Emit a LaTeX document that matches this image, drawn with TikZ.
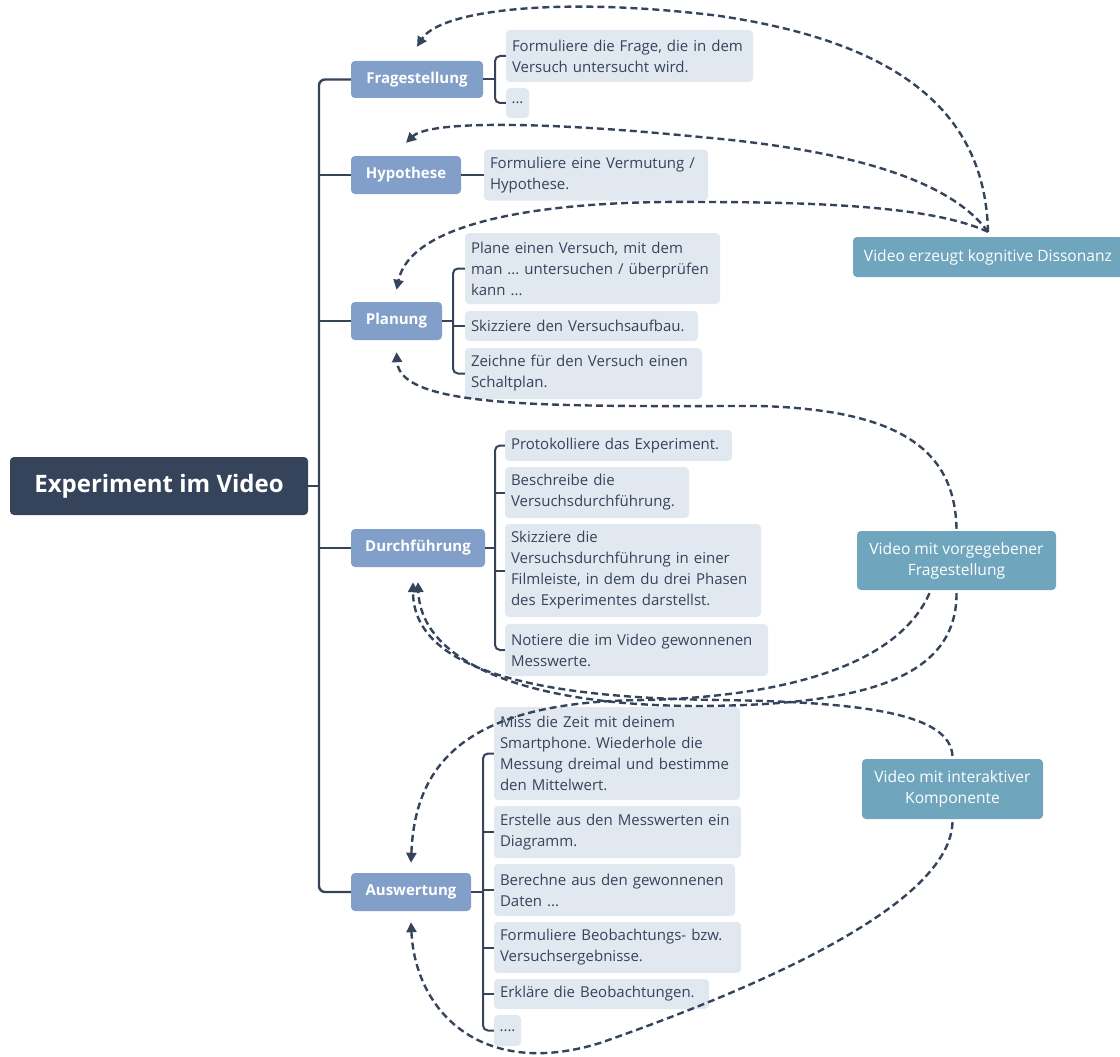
\documentclass[tikz,border=0pt]{standalone}
\usepackage{fontspec}
\setmainfont{Open Sans}
\usetikzlibrary{arrows.meta,calc}
\definecolor{dark}{HTML}{35445A}
\definecolor{branch}{HTML}{819FC8}
\definecolor{leaffill}{HTML}{E2E8F0}
\definecolor{tealbox}{HTML}{70A6BD}
\definecolor{txt}{HTML}{35445A}
\frenchspacing
\begin{document}
\begin{tikzpicture}[x=1pt,y=-1pt,
  box/.style={rounded corners=4pt, inner sep=0pt},
  rootbox/.style={box, fill=dark, text=white, font=\fontsize{24}{28}\selectfont\bfseries, minimum width=298pt, minimum height=58pt},
  branchbox/.style={box, fill=branch, text=white, font=\fontsize{15}{18}\selectfont\bfseries, minimum height=38pt},
  leaf/.style={box, fill=leaffill, text=txt, font=\fontsize{15}{21}\selectfont\frenchspacing, align=left, inner xsep=6pt, inner ysep=0pt},
  side/.style={box, fill=tealbox, text=white, font=\fontsize{15.6}{21}\selectfont, align=center},
  tree/.style={draw=dark, line width=2.4pt, rounded corners=6pt},
  twig/.style={draw=dark, line width=2pt, rounded corners=5pt},
  rel/.style={draw=dark, line width=2.4pt, dash pattern=on 7pt off 4pt, -{Triangle[length=10pt,width=10pt]}},
]
\useasboundingbox (0,0) rectangle (1120,1057);

% root and branches
\node[rootbox] (root) at (159,486) {Experiment im Video};
\node[branchbox, minimum width=132pt, minimum height=37pt] (frag) at (417,79.5) {Fragestellung};
\node[branchbox, minimum width=110pt] (hyp) at (406,175) {Hypothese};
\node[branchbox, minimum width=91pt] (plan) at (396.5,321) {Planung};
\node[branchbox, minimum width=134pt] (durch) at (418,548) {Durchführung};
\node[branchbox, minimum width=120pt] (ausw) at (411,892) {Auswertung};

% leaves
\node[leaf, text width=235pt, minimum height=52pt] (f1) at (629.5,56) {Formuliere die Frage, die in dem\\Versuch untersucht wird.};
\node[leaf, inner xsep=0pt, minimum width=23pt, minimum height=30pt] (f2) at (517.5,103) {...};
\node[leaf, text width=212pt, minimum height=51pt] (h1) at (596,175) {Formuliere eine Vermutung /\\Hypothese.};
\node[leaf, text width=243pt, minimum height=71pt] (p1) at (592.5,268.5) {Plane einen Versuch, mit dem\\man ... untersuchen / überprüfen\\kann ...};
\node[leaf, text width=221pt, minimum height=30pt] (p2) at (581.5,326) {Skizziere den Versuchsaufbau.};
\node[leaf, text width=225pt, minimum height=51pt] (p3) at (583.5,373.5) {Zeichne für den Versuch einen\\Schaltplan.};
\node[leaf, text width=215pt, minimum height=31pt] (d1) at (618.5,445.5) {Protokolliere das Experiment.};
\node[leaf, text width=172pt, minimum height=51pt] (d2) at (597,492.5) {Beschreibe die\\Versuchsdurchführung.};
\node[leaf, text width=244pt, minimum height=93pt] (d3) at (633,570.5) {Skizziere die\\Versuchsdurchführung in einer\\Filmleiste, in dem du drei Phasen\\des Experimentes darstellst.};
\node[leaf, text width=251pt, minimum height=52pt] (d4) at (636.5,650) {Notiere die im Video gewonnenen\\Messwerte.};
\node[leaf, text width=234pt, minimum height=93pt] (a1) at (617,753.5) {Miss die Zeit mit deinem\\Smartphone. Wiederhole die\\Messung dreimal und bestimme\\den Mittelwert.};
\node[leaf, text width=235pt, minimum height=52pt] (a2) at (617.5,832) {Erstelle aus den Messwerten ein\\Diagramm.};
\node[leaf, text width=229pt, minimum height=52pt] (a3) at (614.5,890) {Berechne aus den gewonnenen\\Daten ...};
\node[leaf, text width=235pt, minimum height=51pt] (a4) at (617.5,947.5) {Formuliere Beobachtungs- bzw.\\Versuchsergebnisse.};
\node[leaf, text width=203pt, minimum height=30pt] (a5) at (601.5,994) {Erkläre die Beobachtungen.};
\node[leaf, inner xsep=0pt, minimum width=27pt, minimum height=31pt] (a6) at (507.5,1030.5) {....};

% side nodes
\node[side, minimum width=270pt, minimum height=40pt] (diss) at (988,257) {Video erzeugt kognitive Dissonanz};
\node[side, minimum width=199pt, minimum height=59pt] (vorg) at (956.5,560.5) {Video mit vorgegebener\\Fragestellung};
\node[side, minimum width=181pt, minimum height=60pt] (inter) at (952.5,789) {Video mit interaktiver\\Komponente};

% trunk
\coordinate (tr) at (319,486);
\draw[tree] (root.east) -- (tr);
\draw[tree] (frag.west) -| (tr) |- (ausw.west);
\draw[tree] (hyp.west) -- (hyp.west -| tr);
\draw[tree] (plan.west) -- (plan.west -| tr);
\draw[tree] (durch.west) -- (durch.west -| tr);

% brackets
\coordinate (fb) at (495,0);
\draw[twig] (frag.east) -- (frag.east -| fb);
\draw[twig] (f1.west) -- (f1.west -| fb) -- (f2.west -| fb) -- (f2.west);
\draw[twig] (hyp.east) -- (h1.west);
\coordinate (pb) at (453,0);
\draw[twig] (plan.east) -- (plan.east -| pb);
\draw[twig] (p1.west) -- (p1.west -| pb) -- (p3.west -| pb) -- (p3.west);
\draw[twig] (p2.west) -- (p2.west -| pb);
\coordinate (db) at (495,0);
\draw[twig] (durch.east) -- (durch.east -| db);
\draw[twig] (d1.west) -- (d1.west -| db) -- (d4.west -| db) -- (d4.west);
\draw[twig] (d2.west) -- (d2.west -| db);
\draw[twig] (d3.west) -- (d3.west -| db);
\coordinate (ab) at (483,0);
\draw[twig] (ausw.east) -- (ausw.east -| ab);
\draw[twig] (a1.west) -- (a1.west -| ab) -- (a6.west -| ab) -- (a6.west);
\draw[twig] (a2.west) -- (a2.west -| ab);
\draw[twig] (a3.west) -- (a3.west -| ab);
\draw[twig] (a4.west) -- (a4.west -| ab);
\draw[twig] (a5.west) -- (a5.west -| ab);

% relationships
\draw[rel] ([yshift=5pt]diss.north) .. controls (985,100) and (880,40) .. (720,16) .. controls (560,-4) and (440,10) .. ([yshift=14pt]frag.north);
\draw[rel] ([yshift=5pt]diss.north) .. controls (950,180) and (850,150) .. (700,137) .. controls (550,122) and (430,120) .. ([yshift=13pt]hyp.north);
\draw[rel] ([yshift=5pt]diss.north) .. controls (940,210) and (850,202) .. (700,202) .. controls (530,200) and (410,225) .. ([yshift=12pt]plan.north);
\draw[rel] ([yshift=2pt]vorg.north) .. controls (955,450) and (900,410) .. (760,406) .. controls (560,406) and (400,410) .. ([yshift=-12pt]plan.south);
\draw[rel] ([yshift=-3pt]vorg.south) .. controls (957,680) and (860,705) .. (700,706) .. controls (520,706) and (421,660) .. ([yshift=-15pt]durch.south);
\draw[rel] ([xshift=-27pt,yshift=-3pt]vorg.south) .. controls (900,660) and (800,695) .. (650,700) .. controls (470,700) and (415,760) .. ([yshift=10pt]ausw.north);
\draw[rel] ([yshift=3pt]inter.north) .. controls (950,715) and (870,702) .. (720,700) .. controls (520,698) and (413,665) .. ([xshift=-5pt,yshift=-15pt]durch.south);
\draw[rel] ([yshift=-3pt]inter.south) .. controls (950,900) and (780,980) .. (600,1043) .. controls (480,1080) and (415,1010) .. ([yshift=-11pt]ausw.south);
\end{tikzpicture}
\end{document}
